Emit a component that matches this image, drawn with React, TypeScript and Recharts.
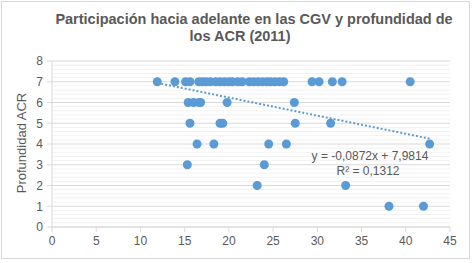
import {
  ScatterChart,
  Scatter,
  XAxis,
  YAxis,
  CartesianGrid,
  ReferenceLine,
} from "recharts";

// participation (x) and ACR depth (y)
const participacion = [
  11.9, 13.9, 15.1, 15.6, 16.6, 17.0, 17.4, 17.9, 18.5, 19.0, 19.5, 20.0, 20.4,
  21.0, 21.5, 22.3, 22.8, 23.3, 23.8, 24.3, 24.7, 25.2, 25.7, 26.2, 29.4, 30.2,
  31.7, 32.8, 40.5,
  15.4, 16.0, 16.6, 16.8, 19.8, 27.4,
  15.6, 19.0, 19.3, 27.5, 31.5,
  16.4, 18.3, 24.5, 26.5, 42.7,
  15.3, 24.0,
  23.2, 33.2,
  38.1, 42.0,
];
const profundidad = [
  7, 7, 7, 7, 7, 7, 7, 7, 7, 7, 7, 7, 7,
  7, 7, 7, 7, 7, 7, 7, 7, 7, 7, 7, 7, 7,
  7, 7, 7,
  6, 6, 6, 6, 6, 6,
  5, 5, 5, 5, 5,
  4, 4, 4, 4, 4,
  3, 3,
  2, 2,
  1, 1,
];

const xTicks = [0, 5, 10, 15, 20, 25, 30, 35, 40, 45];
const yTicks = [0, 1, 2, 3, 4, 5, 6, 7, 8];
const yMinor = [
  0.2, 0.4, 0.6, 0.8, 1.2, 1.4, 1.6, 1.8, 2.2, 2.4, 2.6, 2.8, 3.2, 3.4, 3.6,
  3.8, 4.2, 4.4, 4.6, 4.8, 5.2, 5.4, 5.6, 5.8, 6.2, 6.4, 6.6, 6.8, 7.2, 7.4,
  7.6, 7.8,
];

// linear trend shown in the chart
const slope = -0.0872;
const intercept = 7.9814;
const trendFrom = 11.9;
const trendTo = 42.7;

const points = participacion.map((x, i) => ({ x, y: profundidad[i] }));

const grey = "#595959";
const blue = "#5b9bd5";
const font = "'Liberation Sans', Arial, sans-serif";

const App = () => {
  return (
    <div
      style={{
        position: "absolute",
        left: 0,
        top: 0,
        width: 472,
        height: 263,
        background: "#fff",
        fontFamily: font,
      }}
    >
      <ScatterChart
        width={472}
        height={263}
        margin={{ top: 61, right: 22, bottom: 6, left: 12 }}
      >
        <CartesianGrid
          vertical={false}
          horizontalValues={yMinor}
          stroke="#f2f2f2"
        />
        <CartesianGrid
          vertical={false}
          horizontalValues={yTicks}
          stroke="#d9d9d9"
        />
        <XAxis
          type="number"
          dataKey="x"
          domain={[0, 45]}
          ticks={xTicks}
          interval={0}
          stroke="#d9d9d9"
          tickSize={5}
          tickMargin={4}
          tick={{ fill: grey, fontSize: 12, fontFamily: font }}
        />
        <YAxis
          type="number"
          dataKey="y"
          domain={[0, 8]}
          ticks={yTicks}
          interval={0}
          width={40}
          stroke="#d9d9d9"
          tickSize={5}
          tickMargin={4}
          tick={{ fill: grey, fontSize: 12, fontFamily: font }}
        />
        <ReferenceLine
          segment={[
            { x: trendFrom, y: slope * trendFrom + intercept },
            { x: trendTo, y: slope * trendTo + intercept },
          ]}
          stroke={blue}
          strokeWidth={2}
          strokeDasharray="2 2"
        />
        <Scatter
          data={points}
          fill={blue}
          isAnimationActive={false}
          shape={(p: any) => <circle cx={p.cx} cy={p.cy} r={4.5} fill={blue} />}
        />
      </ScatterChart>
      <svg
        width={472}
        height={263}
        style={{ position: "absolute", left: 0, top: 0, pointerEvents: "none" }}
      >
        <rect x={1.5} y={1.5} width={468} height={257} fill="none" stroke="#d9d9d9" />
        <text
          x={254}
          y={24}
          textAnchor="middle"
          fill={grey}
          fontSize={14.5}
          fontWeight="bold"
          fontFamily={font}
        >
          Participación hacia adelante en las CGV y profundidad de
        </text>
        <text
          x={240}
          y={41}
          textAnchor="middle"
          fill={grey}
          fontSize={14.5}
          fontWeight="bold"
          fontFamily={font}
        >
          los ACR (2011)
        </text>
        <text
          transform="translate(26,143) rotate(-90)"
          textAnchor="middle"
          fill={grey}
          fontSize={13}
          fontFamily={font}
        >
          Profundidad ACR
        </text>
        <text x={370} y={160} textAnchor="middle" fill={grey} fontSize={12} fontFamily={font}>
          y = -0,0872x + 7,9814
        </text>
        <text x={368} y={175} textAnchor="middle" fill={grey} fontSize={12} fontFamily={font}>
          R² = 0,1312
        </text>
      </svg>
    </div>
  );
};

export default App;
